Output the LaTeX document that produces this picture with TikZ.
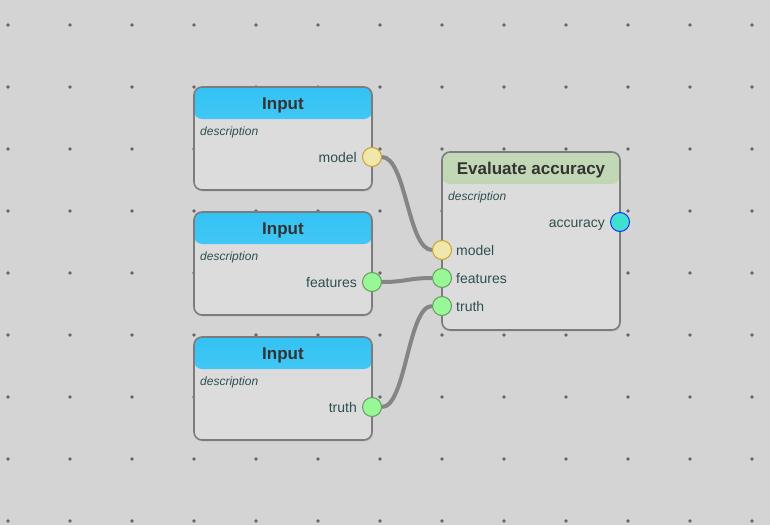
\documentclass[tikz,border=0pt]{standalone}
\usepackage{fontspec}
\setmainfont{Liberation Sans}
\usetikzlibrary{positioning, shadows}

\definecolor{canvasbg}{HTML}{D4D4D4}
\definecolor{griddot}{HTML}{666666}
\definecolor{bodyfill}{HTML}{DCDCDC}
\definecolor{boxborder}{HTML}{7C7C7C}
\definecolor{inhdrtop}{HTML}{33C2F4}
\definecolor{inhdrbot}{HTML}{60D3F6}
\definecolor{evhdrtop}{HTML}{C2D8B6}
\definecolor{evhdrbot}{HTML}{B9D0AC}
\definecolor{titletext}{HTML}{333333}
\definecolor{labeltext}{HTML}{2F4F4F}
\definecolor{yelfill}{HTML}{F0E8AA}
\definecolor{yeldraw}{HTML}{C9A12E}
\definecolor{grnfill}{HTML}{98F898}
\definecolor{grndraw}{HTML}{649A5E}
\definecolor{turqfill}{HTML}{40E0D0}
\definecolor{turqdraw}{HTML}{1530F0}
\definecolor{wirecol}{HTML}{858585}

\begin{document}
\begin{tikzpicture}[
    x=1pt, y=-1pt,
    % Node styles
    box/.style={
        rectangle, rounded corners=8pt,
        minimum width=178pt, inner sep=0pt, outer sep=0pt,
        draw=boxborder, line width=1.6pt,
        fill=bodyfill,
        drop shadow={shadow xshift=1pt, shadow yshift=-1.5pt, opacity=0.18},
    },
    inbox/.style={
        box, minimum height=103pt,
        path picture={
            \shade[top color=inhdrtop, bottom color=inhdrbot]
                (path picture bounding box.north west) rectangle
                ([yshift=-32pt]path picture bounding box.north east);
        },
    },
    evbox/.style={
        box, minimum height=178pt,
        path picture={
            \shade[top color=evhdrtop, bottom color=evhdrbot]
                (path picture bounding box.north west) rectangle
                ([yshift=-32pt]path picture bounding box.north east);
        },
    },
    title/.style={
        font=\fontsize{17}{20}\selectfont\bfseries, text=titletext,
        inner sep=0pt, text height=13pt, text depth=2pt,
    },
    desc/.style={
        font=\fontsize{12}{14}\selectfont\itshape, text=labeltext,
        anchor=west, inner sep=0pt, text height=10pt, text depth=1pt,
    },
    plabel/.style={
        font=\fontsize{14}{16}\selectfont, text=labeltext,
        inner sep=0pt, text height=12pt, text depth=1pt,
    },
    port/.style={
        circle, minimum size=19pt, inner sep=0pt,
        line width=1pt, fill=#1fill, draw=#1draw,
    },
    port/.default=grn,
    wire/.style={
        draw=wirecol, line width=4pt,
    },
]

% === Canvas and grid ===
\fill[canvasbg] (0,0) rectangle (770,525);
\useasboundingbox (0,0) rectangle (770,525);
\foreach \gx in {8,70,...,760}
    \foreach \gy in {25,87,...,525}
        \fill[griddot] (\gx,\gy) circle (1.8pt);

% === Input boxes ===
\node[inbox] (in1) at (283,138.5) {};
\node[inbox, below=22pt of in1] (in2) {};
\node[inbox, below=22pt of in2] (in3) {};

% === Evaluate box ===
\node[evbox] (eval) at (531,241) {};

% === Titles and descriptions ===
\foreach \bx in {in1,in2,in3} {
    \node[title] (\bx-title) at ([yshift=-17pt]\bx.north) {Input};
    \node[desc] (\bx-desc) at ([xshift=6pt, yshift=-44pt]\bx.north west) {description};
}
\node[title] (eval-title) at ([yshift=-17pt]eval.north) {Evaluate accuracy};
\node[desc] (eval-desc) at ([xshift=6pt, yshift=-44pt]eval.north west) {description};

% === Output ports ===
\node[port=yel] (in1-model)    at ([yshift=-70pt]in1.north east) {};
\node[port]     (in2-features) at ([yshift=-70pt]in2.north east) {};
\node[port]     (in3-truth)    at ([yshift=-70pt]in3.north east) {};
\node[port=turq] (eval-acc)    at ([yshift=-70pt]eval.north east) {};

\node[plabel, left=5pt of in1-model]    {model};
\node[plabel, left=5pt of in2-features] {features};
\node[plabel, left=5pt of in3-truth]    {truth};
\node[plabel, left=5pt of eval-acc]     {accuracy};

% === Input ports ===
\node[port=yel] (eval-model)    at ([yshift=-98pt]eval.north west) {};
\node[port]     (eval-features) at ([yshift=-126pt]eval.north west) {};
\node[port]     (eval-truth)    at ([yshift=-154pt]eval.north west) {};

\node[plabel, right=4pt of eval-model]    {model};
\node[plabel, right=4pt of eval-features] {features};
\node[plabel, right=4pt of eval-truth]    {truth};

% === Wires ===
\draw[wire] (in1-model.east) .. controls +(24,0) and +(-24,0) .. (eval-model.west);
\draw[wire] (in2-features.east) .. controls +(24,0) and +(-24,0) .. (eval-features.west);
\draw[wire] (in3-truth.east) .. controls +(24,0) and +(-24,0) .. (eval-truth.west);

\end{tikzpicture}
\end{document}
